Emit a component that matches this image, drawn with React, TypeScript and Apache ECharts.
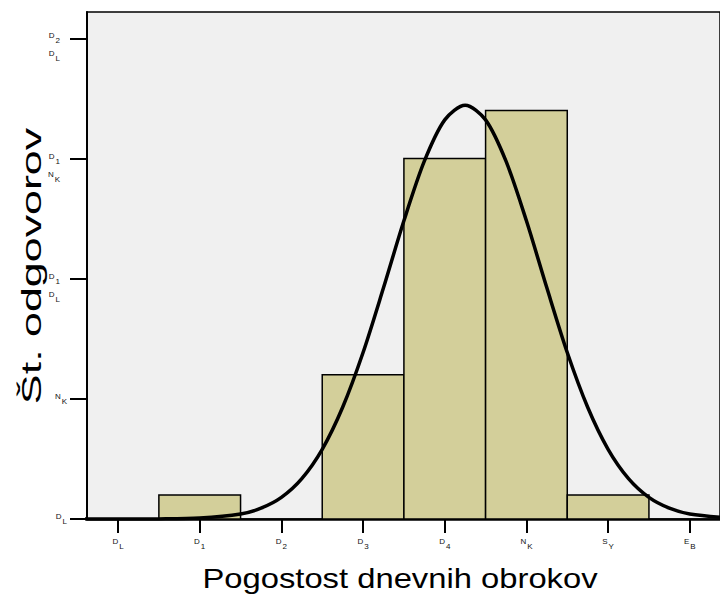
import React, { useEffect, useRef } from "react";
import * as echarts from "echarts";

// Histogram bins (bin centre) and counts
const binCenters = [1, 2, 3, 4, 5, 6];
const binCounts = [1, 0, 6, 15, 17, 1];
const binWidth = 1;

// Fitted normal curve
const curveX = [-0.5, 0, 0.5, 1, 1.5, 1.75, 2, 2.25, 2.5, 2.75, 3, 3.25, 3.5, 3.75, 4, 4.25, 4.5, 4.75, 5, 5.25, 5.5, 5.75, 6, 6.25, 6.5, 6.75, 7, 7.5];
const curveY = [0, 0, 0.005, 0.04, 0.21, 0.45, 0.9, 1.68, 2.9, 4.65, 6.93, 9.62, 12.41, 14.89, 16.61, 17.22, 16.61, 14.89, 12.41, 9.62, 6.93, 4.65, 2.9, 1.68, 0.9, 0.45, 0.21, 0.04];

// Tick values and their (garbled) labels: [letter, subscript]
const xTickValues = [0, 1, 2, 3, 4, 5, 6, 7];
const xTickLabels = [["D", "L"], ["D", "1"], ["D", "2"], ["D", "3"], ["D", "4"], ["N", "K"], ["S", "Y"], ["E", "B"]];
const yTickValues = [0, 5, 10, 15, 20];
const yTickLabels1 = [["D", "L"], ["N", "K"], ["D", "1"], ["D", "1"], ["D", "2"]];
const yTickValues2 = [10, 15, 20];
const yTickLabels2 = [["D", "L"], ["N", "K"], ["D", "L"]];

const xTitle = "Pogostost dnevnih obrokov";
const yTitle = "Št. odgovorov";

const rich = {
  d: { fontSize: 8, color: "#111", fontFamily: "Liberation Sans", padding: [0, 0, 5, 0] },
  s: { fontSize: 8, color: "#111", fontFamily: "Liberation Sans", padding: [5, 0, 0, 1] },
  sp: { width: 7 },
};

const fmtPair = (p: string[], spacer: boolean) =>
  `{d|${p[0]}}{s|${p[1]}}` + (spacer ? "{sp|}" : "");

export default function App() {
  const ref = useRef<HTMLDivElement>(null);
  useEffect(() => {
    if (!ref.current) return;
    const chart = echarts.init(ref.current, null, { renderer: "svg" });
    const barData = binCenters.map((c, i) => [c, binCounts[i]]).filter((d) => d[1] > 0);
    const lineData = curveX.map((x, i) => [x, curveY[i]]);
    chart.setOption({
      animation: false,
      backgroundColor: "#ffffff",
      grid: {
        left: 87,
        top: 12,
        right: -3,
        bottom: 77,
        show: true,
        backgroundColor: "#f0f0f0",
        borderColor: "#000",
        borderWidth: 1.5,
      },
      xAxis: {
        type: "value",
        min: -0.38,
        max: 7.37,
        splitLine: { show: false },
        axisLine: { onZero: false, lineStyle: { color: "#000", width: 2.5 } },
        axisTick: { customValues: xTickValues, length: 14, lineStyle: { color: "#000", width: 2 } },
        axisLabel: {
          customValues: xTickValues,
          margin: 18,
          color: "#111",
          rich,
          formatter: (v: number) => {
            const i = xTickValues.indexOf(v);
            return i >= 0 ? fmtPair(xTickLabels[i], false) : "";
          },
        },
      },
      yAxis: [
        {
          type: "value",
          min: 0,
          max: 21.1,
          splitLine: { show: false },
          axisLine: { show: true, onZero: false, lineStyle: { color: "#000", width: 2 } },
          axisTick: { show: true, customValues: yTickValues, length: 17, lineStyle: { color: "#000", width: 2 } },
          axisLabel: {
            customValues: yTickValues,
            margin: 20,
            color: "#111",
            rich,
            formatter: (v: number) => {
              const i = yTickValues.indexOf(v);
              return i >= 0 ? fmtPair(yTickLabels1[i], v >= 10) : "";
            },
          },
        },
        {
          type: "value",
          min: 0,
          max: 21.1,
          position: "left",
          splitLine: { show: false },
          axisLine: { show: false, onZero: false },
          axisTick: { show: false },
          axisLabel: {
            customValues: yTickValues2,
            margin: 20,
            color: "#111",
            verticalAlign: "top",
            lineHeight: 36,
            rich: {
              d: { ...rich.d, lineHeight: 36 },
              s: { ...rich.s, lineHeight: 36 },
              sp: { width: 7, lineHeight: 36 },
            },
            formatter: (v: number) => {
              const i = yTickValues2.indexOf(v);
              return i >= 0 ? fmtPair(yTickLabels2[i], true) : "";
            },
          },
        },
      ],
      graphic: [
        {
          type: "text",
          x: 400,
          y: 578,
          scaleX: 1.17,
          style: {
            text: xTitle,
            font: "28px 'Liberation Sans'",
            fill: "#000",
            textAlign: "center",
            textVerticalAlign: "middle",
          },
        },
        {
          type: "text",
          x: 31,
          y: 266,
          rotation: Math.PI / 2,
          scaleX: 1.6,
          style: {
            text: yTitle,
            font: "28px 'Liberation Sans'",
            fill: "#000",
            textAlign: "center",
            textVerticalAlign: "middle",
          },
        },
      ],
      series: [
        {
          type: "custom",
          data: barData,
          renderItem: (params: any, api: any) => {
            const x = api.value(0);
            const c = api.value(1);
            const p0 = api.coord([x - binWidth / 2, 0]);
            const p1 = api.coord([x + binWidth / 2, c]);
            return {
              type: "rect",
              shape: { x: p0[0], y: p1[1], width: p1[0] - p0[0], height: p0[1] - p1[1] },
              style: { fill: "#d3cf9a", stroke: "#000", lineWidth: 1.5 },
            };
          },
          z: 2,
        },
        {
          type: "line",
          data: lineData,
          showSymbol: false,
          smooth: 0.3,
          lineStyle: { color: "#000", width: 3.5 },
          z: 3,
        },
      ],
    });
    return () => chart.dispose();
  }, []);
  return <div ref={ref} style={{ position: "fixed", left: 0, top: 0, width: 720, height: 596 }} />;
}
